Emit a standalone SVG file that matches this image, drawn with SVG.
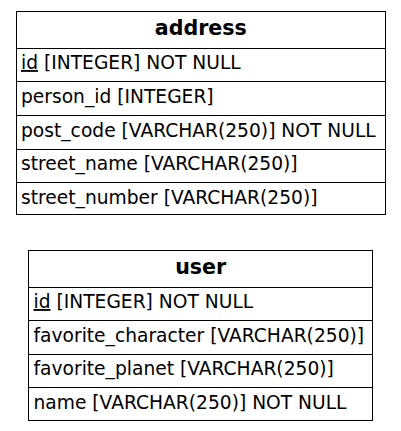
<svg xmlns="http://www.w3.org/2000/svg" width="401" height="431" viewBox="0 0 401 431">
<style>
.box{fill:#ffffff;stroke:#000000;stroke-width:1}
.sep{stroke:#000000;stroke-width:1}
text{font-family:"DejaVu Sans",sans-serif;font-size:18.67px;fill:#000000}
.h{font-weight:bold;text-anchor:middle;font-size:20.6px}
</style>
<rect width="401" height="431" fill="#ffffff"/>
<g id="address">
<rect class="box" x="16.5" y="11.5" width="369" height="203"/>
<line class="sep" x1="16.5" y1="48.5" x2="385.5" y2="48.5"/>
<line class="sep" x1="16.5" y1="81.5" x2="385.5" y2="81.5"/>
<line class="sep" x1="16.5" y1="115.5" x2="385.5" y2="115.5"/>
<line class="sep" x1="16.5" y1="149.5" x2="385.5" y2="149.5"/>
<line class="sep" x1="16.5" y1="182.5" x2="385.5" y2="182.5"/>
<text class="h" x="200.8" y="35">address</text>
<text x="21" y="69"><tspan text-decoration="underline">id</tspan> [INTEGER] NOT NULL</text>
<text x="21" y="103">person_id [INTEGER]</text>
<text x="21" y="137">post_code [VARCHAR(250)] NOT NULL</text>
<text x="21" y="170">street_name [VARCHAR(250)]</text>
<text x="21" y="203.5">street_number [VARCHAR(250)]</text>
</g>
<g id="user">
<rect class="box" x="28.5" y="250.5" width="344" height="170"/>
<line class="sep" x1="28.5" y1="287.5" x2="372.5" y2="287.5"/>
<line class="sep" x1="28.5" y1="320.5" x2="372.5" y2="320.5"/>
<line class="sep" x1="28.5" y1="354.5" x2="372.5" y2="354.5"/>
<line class="sep" x1="28.5" y1="387.5" x2="372.5" y2="387.5"/>
<text class="h" x="200.7" y="274">user</text>
<text x="33.5" y="308"><tspan text-decoration="underline">id</tspan> [INTEGER] NOT NULL</text>
<text x="33.5" y="342">favorite_character [VARCHAR(250)]</text>
<text x="33.5" y="375">favorite_planet [VARCHAR(250)]</text>
<text x="33.5" y="409">name [VARCHAR(250)] NOT NULL</text>
</g>
<g id="connectors"></g>
</svg>
